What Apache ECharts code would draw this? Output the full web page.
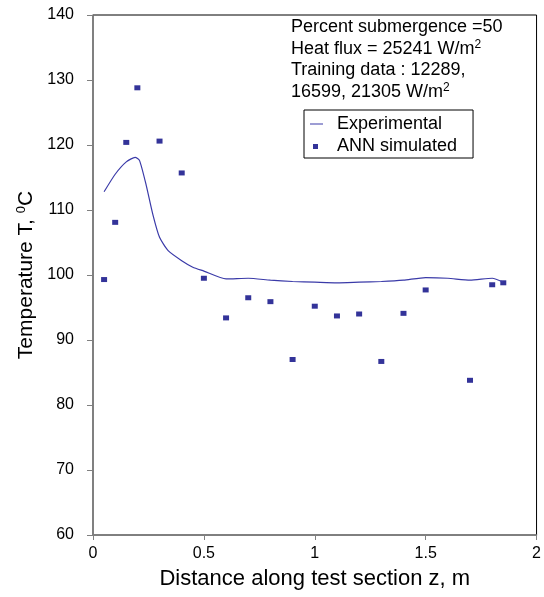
<!DOCTYPE html>
<html>
<head>
<meta charset="utf-8">
<script src="https://cdn.jsdelivr.net/npm/echarts@6/dist/echarts.min.js"></script>
<style>
  html, body { margin: 0; padding: 0; background: #fff; }
  #chart { width: 544px; height: 597px; }
</style>
</head>
<body>
<div id="chart"></div>
<script>
// ANN simulated points (z in m, T in degC)
const annX = [0.05, 0.1, 0.15, 0.2, 0.3, 0.4, 0.5, 0.6, 0.7, 0.8, 0.9, 1.0, 1.1, 1.2, 1.3, 1.4, 1.5, 1.7, 1.8, 1.85];
const annY = [99.3, 108.1, 120.4, 128.8, 120.6, 115.7, 99.5, 93.4, 96.5, 95.9, 87.0, 95.2, 93.7, 94.0, 86.7, 94.1, 97.7, 83.8, 98.5, 98.8];

// experimental curve
const expX = [0.05, 0.1, 0.15, 0.19, 0.21, 0.24, 0.27, 0.3, 0.34, 0.4, 0.45, 0.5, 0.6, 0.7, 0.8, 0.9, 1.0, 1.1, 1.2, 1.3, 1.4, 1.5, 1.6, 1.7, 1.8, 1.85];
const expY = [112.8, 115.5, 117.4, 118.1, 117.6, 113.8, 109.3, 105.8, 103.7, 102.2, 101.2, 100.6, 99.4, 99.5, 99.2, 99.0, 98.9, 98.8, 98.9, 99.0, 99.2, 99.6, 99.5, 99.2, 99.5, 98.9];

const notes = [
  'Percent submergence =50',
  'Heat flux = 25241 W/m{sup|2}',
  'Training data : 12289,',
  '16599, 21305 W/m{sup|2}'
];
const noteTops = [17, 39, 60, 82];

const font = '"Liberation Sans", Arial, sans-serif';
const chart = echarts.init(document.getElementById('chart'));

const supStyle = { fontSize: 12, lineHeight: 12, verticalAlign: 'top', fontFamily: font, fill: '#000' };

const option = {
  backgroundColor: '#fff',
  animation: false,
  textStyle: { fontFamily: font, color: '#000' },
  grid: {
    left: 93, right: 6, top: 15, bottom: 62,
    show: true, borderColor: '#000', borderWidth: 1, backgroundColor: 'transparent'
  },
  legend: {
    orient: 'vertical',
    left: 304, top: 110,
    padding: [5, 16, 3, 6],
    itemGap: 4,
    itemWidth: 22, itemHeight: 14,
    borderColor: '#000', borderWidth: 1,
    textStyle: { fontSize: 18, color: '#000', fontFamily: font },
    data: [
      { name: 'Experimental', icon: 'path://M0,0M22,14M0,6.5L13,6.5L13,7.5L0,7.5Z' },
      { name: 'ANN simulated', icon: 'path://M0,0M22,14M3,5L8,5L8,10L3,10Z' }
    ]
  },
  xAxis: {
    type: 'value',
    min: 0, max: 2, interval: 0.5,
    name: 'Distance along test section z, m',
    nameLocation: 'middle', nameGap: 33,
    nameTextStyle: { fontSize: 22, color: '#000', fontFamily: font },
    axisLine: { show: true, onZero: false, lineStyle: { color: '#808080', width: 1.5 } },
    axisTick: { show: true, length: 5, lineStyle: { color: '#808080' } },
    axisLabel: { fontSize: 16, color: '#000', margin: 11 },
    splitLine: { show: false }
  },
  yAxis: {
    type: 'value',
    min: 60, max: 140, interval: 10,
    name: 'Temperature T, {sup|0}C',
    nameLocation: 'middle', nameRotate: 90, nameGap: 54,
    nameTextStyle: {
      fontSize: 21, color: '#000', fontFamily: font,
      rich: { sup: { fontSize: 13, lineHeight: 13, verticalAlign: 'top', color: '#000' } }
    },
    axisLine: { show: true, lineStyle: { color: '#808080', width: 1.5 } },
    axisTick: { show: true, length: 6, lineStyle: { color: '#808080' } },
    axisLabel: { fontSize: 16, color: '#000', margin: 19 },
    splitLine: { show: false }
  },
  graphic: notes.map((t, i) => ({
    type: 'text',
    left: 291,
    top: noteTops[i],
    style: {
      text: t,
      fontSize: 18,
      fontFamily: font,
      fill: '#000',
      lineHeight: 21,
      rich: { sup: supStyle }
    }
  })),
  series: [
    {
      name: 'Experimental',
      type: 'line',
      data: expX.map((x, i) => [x, expY[i]]),
      smooth: 0.2,
      showSymbol: false,
      color: '#3a3aa8',
      lineStyle: { width: 1.2, color: '#3a3aa8' }
    },
    {
      name: 'ANN simulated',
      type: 'scatter',
      data: annX.map((x, i) => [x, annY[i]]),
      symbol: 'rect',
      symbolSize: [6, 5],
      color: '#000080'
    }
  ]
};

chart.setOption(option);
</script>
</body>
</html>
